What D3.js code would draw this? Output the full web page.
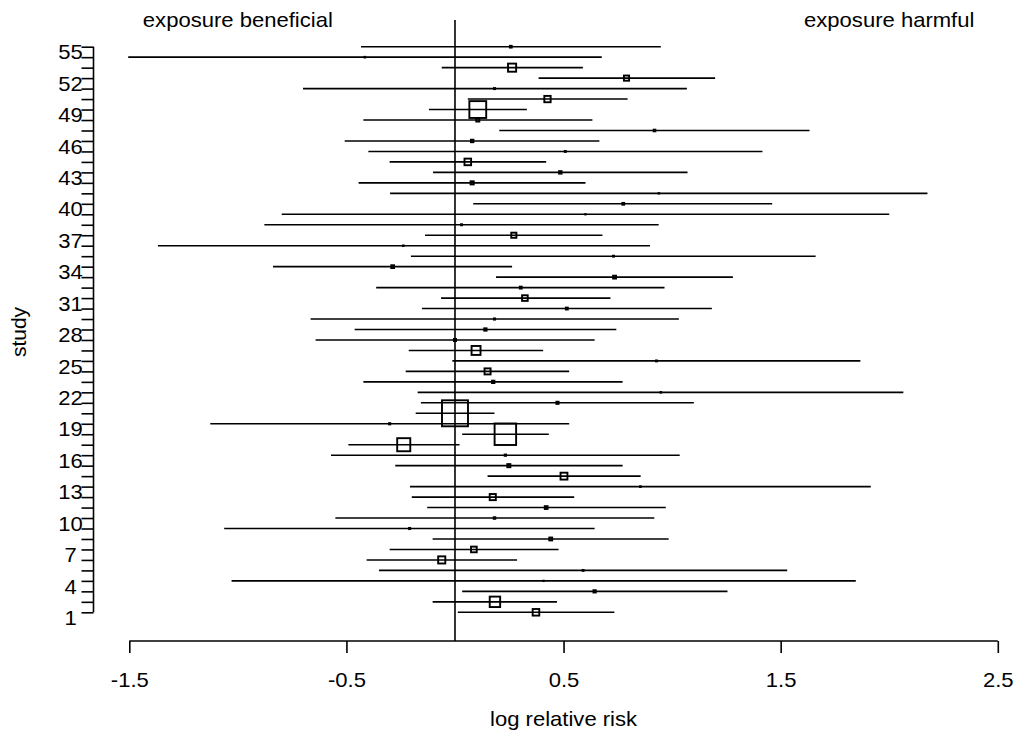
<!DOCTYPE html>
<html>
<head>
<meta charset="utf-8">
<script src="https://cdn.jsdelivr.net/npm/d3@7"></script>
<style>
  html, body { margin: 0; padding: 0; background: #fff; }
  svg { display: block; }
  text { font-family: "Liberation Sans", Arial, Helvetica, sans-serif; fill: #000; }
</style>
</head>
<body>
<svg id="chart" width="1017" height="738"></svg>
<script>
// ---- data (log relative risk per study) ----
const studies = d3.range(1, 56);
const estimate = [
  0.373, 0.184, 0.643, 0.408, 0.590, -0.061, 0.087, 0.441, -0.209, 0.182,
  0.420, 0.174, 0.854, 0.502, 0.248, 0.232, -0.236, 0.232, -0.301, 0.000,
  0.472, 0.948, 0.176, 0.150, 0.928, 0.097, 0.000, 0.140, 0.182, 0.515,
  0.322, 0.303, 0.735, -0.287, 0.730, -0.238, 0.271, 0.030, 0.601, 0.775,
  0.939, 0.079, 0.485, 0.059, 0.508, 0.079, 0.919, 0.105, 0.105, 0.426,
  0.182, 0.790, 0.263, -0.415, 0.257
];
const lower = [
  0.013, -0.103, 0.033, -1.029, -0.350, -0.407, -0.301, -0.103, -1.063, -0.551,
  -0.128, -0.199, -0.207, 0.150, -0.275, -0.571, -0.491, 0.033, -1.127, -0.181,
  -0.157, -0.172, -0.422, -0.227, -0.012, -0.213, -0.642, -0.462, -0.665, -0.152,
  -0.064, -0.363, 0.189, -0.838, -0.203, -1.368, -0.138, -0.878, -0.798, 0.084,
  -0.299, -0.444, -0.101, -0.301, -0.399, -0.508, 0.204, -0.422, -0.120, 0.059,
  -0.700, 0.385, -0.061, -1.505, -0.433
];
const upper = [
  0.734, 0.470, 1.255, 1.846, 1.530, 0.286, 0.477, 0.984, 0.643, 0.918,
  0.971, 0.549, 1.915, 0.855, 0.772, 1.035, 0.021, 0.432, 0.526, 0.182,
  1.100, 2.065, 0.772, 0.526, 1.867, 0.406, 0.643, 0.743, 1.031, 1.183,
  0.716, 0.965, 1.280, 0.263, 1.661, 0.898, 0.679, 0.938, 2.000, 1.461,
  2.176, 0.601, 1.071, 0.420, 1.416, 0.665, 1.633, 0.633, 0.331, 0.795,
  1.068, 1.198, 0.589, 0.676, 0.948
];
const xTicks = [-1.5, -0.5, 0.5, 1.5, 2.5];
const yTickLabels = d3.range(1, 56, 3);
const xTitle = "log relative risk";
const yTitle = "study";
const notes = [
  { x: -1, text: "exposure beneficial" },
  { x: 2, text: "exposure harmful" }
];

// ---- build rows (box area reflects precision of each estimate) ----
const rows = studies.map((s, i) => {
  const se = (upper[i] - lower[i]) / 3.92;
  return { study: s, est: estimate[i], lo: lower[i], hi: upper[i], w: 1 / (se * se) };
});

const FS = "21px";
const STRETCH = 1.05;
const svg = d3.select("#chart");
const x = d3.scaleLinear().domain([-1.5, 2.5]).range([129.3, 997.8]);
const y = d3.scaleLinear().domain([1, 55]).range([612.3, 46.7]);
const maxW = d3.max(rows, d => d.w);
const box = d3.scaleLinear().domain([0, maxW]).range([0, 26]);

// zero reference line
svg.append("line")
  .attr("x1", x(0)).attr("x2", x(0))
  .attr("y1", 20).attr("y2", 641)
  .attr("stroke", "#000").attr("stroke-width", 1.6);

// confidence intervals
svg.append("g").selectAll("line").data(rows).join("line")
  .attr("x1", d => x(d.lo)).attr("x2", d => x(d.hi))
  .attr("y1", d => y(d.study)).attr("y2", d => y(d.study))
  .attr("stroke", "#000").attr("stroke-width", 1.6);

// boxes
svg.append("g").selectAll("rect").data(rows).join("rect")
  .attr("x", d => x(d.est) - box(d.w) / 2)
  .attr("y", d => y(d.study) - box(d.w) / 2)
  .attr("width", d => box(d.w))
  .attr("height", d => box(d.w))
  .attr("fill", "none")
  .attr("stroke", "#000").attr("stroke-width", 1.9);

// x axis
const fmt = d3.format(".1f");
const xAxis = svg.append("g").attr("transform", "translate(0,641)")
  .call(d3.axisBottom(x).tickValues(xTicks).tickSize(12).tickSizeOuter(0)
        .tickFormat(d => fmt(d).replace("\u2212", "-")));
xAxis.select(".domain").attr("stroke", "#000").attr("stroke-width", 1.6)
  .attr("d", `M${x(-1.5)},0H${x(2.5)}`);
xAxis.selectAll(".tick line").attr("stroke", "#000").attr("stroke-width", 1.6);
xAxis.selectAll(".tick text")
  .attr("y", 45.5).attr("dy", 0)
  .attr("class", "stretch")
  .style("font-size", FS)
  .style("font-family", "'Liberation Sans', Arial, sans-serif")
  .attr("fill", "#000");

// y axis
const yAxis = svg.append("g").attr("transform", "translate(93.5,0)")
  .call(d3.axisLeft(y).tickValues(studies).tickSize(12).tickSizeOuter(0)
        .tickFormat(d => yTickLabels.includes(d) ? d : ""));
yAxis.select(".domain").attr("stroke", "#000").attr("stroke-width", 1.6)
  .attr("d", `M0,${y(55)}V${y(1)}`);
yAxis.selectAll(".tick line").attr("stroke", "#000").attr("stroke-width", 1.6);
yAxis.selectAll(".tick text")
  .attr("x", -23).attr("dy", "0.58em")
  .attr("text-anchor", "middle")
  .attr("class", "stretch")
  .style("font-size", FS)
  .style("font-family", "'Liberation Sans', Arial, sans-serif")
  .attr("fill", "#000");

// titles
svg.append("text").attr("x", x(0.5)).attr("y", 726)
  .attr("class", "stretch")
  .attr("text-anchor", "middle").style("font-size", FS).text(xTitle);
svg.append("text").attr("transform", "translate(26,332) rotate(-90)")
  .attr("text-anchor", "middle").style("font-size", FS).text(yTitle);
svg.append("g").selectAll("text").data(notes).join("text")
  .attr("x", d => x(d.x)).attr("y", 27)
  .attr("class", "stretch")
  .attr("text-anchor", "middle").style("font-size", FS)
  .text(d => d.text);

// slight horizontal widening of the horizontal labels, as in the reference
svg.selectAll("text.stretch").each(function () {
  const len = this.getComputedTextLength();
  if (len > 0) {
    d3.select(this).attr("textLength", len * STRETCH)
      .attr("lengthAdjust", "spacingAndGlyphs");
  }
});
</script>
</body>
</html>
